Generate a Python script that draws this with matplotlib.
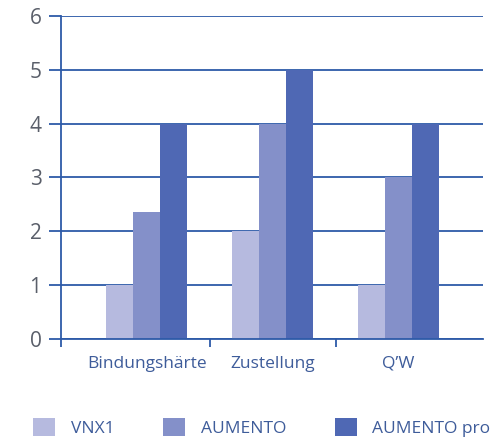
import numpy as np
import matplotlib.pyplot as plt
from matplotlib.patches import Patch

categories = ["Bindungshärte", "Zustellung", "Q\u2019W"]
series = ["VNX1", "AUMENTO", "AUMENTO pro"]
vnx1 = [1, 2, 1]
aumento = [2.35, 4, 3]
aumento_pro = [4, 5, 4]
yticks = [0, 1, 2, 3, 4, 5, 6]

colors = ["#b6badf", "#8490c9", "#4f68b4"]
grid_c = "#2d5aa8"
text_c = "#3e5c9a"

plt.rcParams['font.family'] = ['Open Sans', 'DejaVu Sans']

fig = plt.figure(figsize=(5.02, 4.37), dpi=100)
ax = fig.add_axes([0.1215, 0.2243, 0.8405, 0.7391])

x = np.arange(len(categories))
w = 0.214
for k, vals in enumerate([vnx1, aumento, aumento_pro]):
    ax.bar(x + (k - 1) * w, vals, w, color=colors[k], zorder=3, linewidth=0)

xmin, xmax = -0.68, 2.67
ax.set_ylim(0, 6)
ax.set_xlim(xmin, xmax)
ax.set_yticks(yticks)
ax.set_yticklabels([str(t) for t in yticks], fontsize=15, color="#5a5f6a")
ax.yaxis.grid(True, color=grid_c, linewidth=1.3, zorder=1)
ax.tick_params(axis='y', length=9, width=1.3, color=grid_c, pad=5)

# category labels centered, tick marks at boundaries
ax.set_xticks([xmin, 0.5, 1.5])
ax.set_xticklabels([])
ax.set_xticks(x, minor=True)
ax.set_xticklabels(categories, minor=True, fontsize=12.5, color=text_c)
ax.tick_params(axis='x', which='major', length=6, width=1.3, color=grid_c, direction='out')
ax.tick_params(axis='x', which='minor', length=0, pad=12)

for s in ['top', 'right']:
    ax.spines[s].set_visible(False)
ax.spines['left'].set_color(grid_c)
ax.spines['left'].set_linewidth(1.3)
ax.spines['bottom'].set_color(grid_c)
ax.spines['bottom'].set_linewidth(1.3)
ax.spines['bottom'].set_zorder(4)

handles = [Patch(facecolor=c, edgecolor='none') for c in colors]
leg = fig.legend(handles, series, loc='lower left', bbox_to_anchor=(0.035, -0.035),
                 ncol=3, frameon=False, fontsize=12.5, handlelength=1.27, handleheight=1.27,
                 handletextpad=0.9, columnspacing=2.8)
for t in leg.get_texts():
    t.set_color(text_c)

fig.savefig("out.png", dpi=100)
